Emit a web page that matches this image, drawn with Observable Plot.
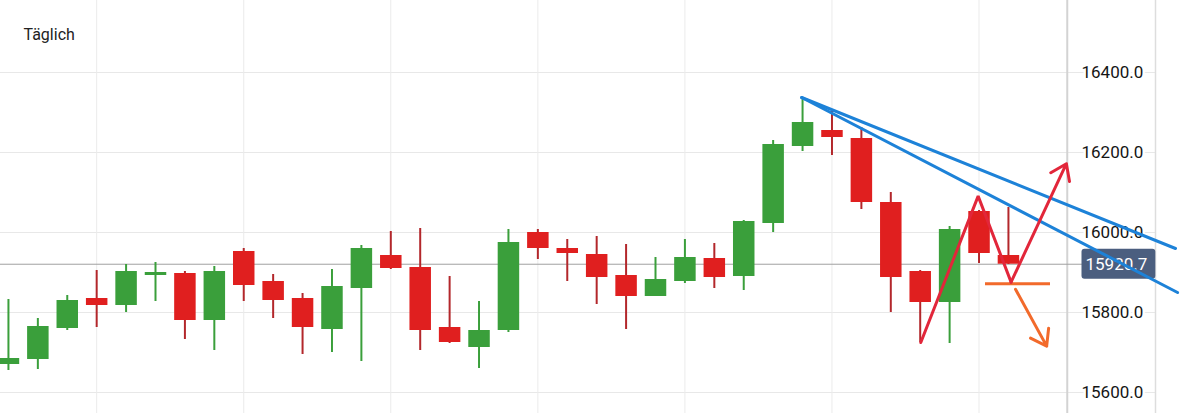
<!DOCTYPE html>
<html><head><meta charset="utf-8">
<script src="https://cdn.jsdelivr.net/npm/d3@7"></script>
<script src="https://cdn.jsdelivr.net/npm/@observablehq/plot@0.6"></script>
<style>body{margin:0;background:#fff;overflow:hidden}</style>
</head><body><div id="chart"></div>
<script>
// ---- data (daily candles, oldest first) ----
const opens  = [15670,15682.5,15760,15835,15817.5,15892.5,15897.5,15780,15952.5,15877.5,15835,15757.5,15860,15942.5,15912.5,15762.5,15712.5,15755,16000,15960,15945,15892.5,15840,15877.5,15935,15890,16022.5,16215,16255,16235,16075,15902.5,15825,16052.5,15942.5];
const highs  = [15832.5,15785,15842.5,15905,15920,15925,15902.5,15915,15960,15895,15847.5,15907.5,15967.5,16002.5,16010,15890,15827.5,16007.5,16007.5,15982.5,15990,15970,15937.5,15982.5,15972.5,16030,16230,16337.5,16307.5,16262.5,16100,15905,16015,16055,16062.5];
const lows   = [15655,15657.5,15755,15762.5,15800,15827.5,15732.5,15705,15827.5,15785,15695,15700,15677.5,15907.5,15705,15722.5,15660,15750,15932.5,15877.5,15820,15757.5,15840,15872.5,15860,15855,16000,16202.5,16192.5,16057.5,15800,15725,15722.5,15922.5,15920];
const closes = [15685,15765,15830,15817.5,15902.5,15900,15780,15902.5,15867.5,15830,15762.5,15865,15960,15910,15755,15725,15755,15975,15960,15947.5,15887.5,15840,15882.5,15937.5,15887.5,16027.5,16220,16275,16237.5,16075,15887.5,15825,16007.5,15947.5,15920.7];
const lastPrice = 15920.7;
const yTicks = [15600,15800,16000,16200,16400];
const gridCols = [3,8,13,18,23,28,33];
const titleText = "Täglich";

// ---- drawn annotations (candle index, price) ----
const trendLines = [
  {line:"a", i:26.97, v:16337.5}, {line:"a", i:39.68, v:15960},
  {line:"b", i:26.97, v:16337.5}, {line:"b", i:39.75, v:15850}
];
const redPath = [{i:31.02, v:15725},{i:32.97, v:16091},{i:34.09, v:15876}];
const redArrow = [{i1:34.09, v1:15876, i2:35.97, v2:16172}];
const orangeLevel = [{i1:33.22, i2:35.43, v:15872}];
const orangeArrow = [{i1:34.24, v1:15858, i2:35.3, v2:15716}];

// ---- layout ----
const xDomain = [-0.27, 39.0];
const plotEdge = 36.0;
const yDomain = [15547.5, 16580];

const candles = opens.map((o,i)=>({i, open:o, high:highs[i], low:lows[i], close:closes[i]}));
const up = d => d.close >= d.open;
const GREEN="#3a9f3b", RED="#e01f1f", REDWICK="#b3272b", BLUE="#1d82d8", ARED="#e2263a", ORANGE="#f26a2b";

const chart = Plot.plot({
  width:1185, height:413,
  marginTop:0, marginBottom:0, marginLeft:0, marginRight:30,
  x:{type:"linear", domain:xDomain, axis:null},
  y:{domain:yDomain, axis:null},
  style:{fontFamily:"Roboto, sans-serif", background:"#fff", overflow:"visible"},
  marks:[
    Plot.ruleY(yTicks,{stroke:"#e8e8e8", strokeWidth:1}),
    Plot.ruleX(gridCols,{stroke:"#ebebeb", strokeWidth:1}),
    Plot.ruleX([plotEdge],{stroke:"#d3d3d3", strokeWidth:2}),
    Plot.ruleX([xDomain[1]],{stroke:"#dddddd", strokeWidth:1.5}),
    Plot.ruleY([lastPrice],{stroke:"#a0a0a0", strokeWidth:1}),
    Plot.ruleX(candles,{x:"i", y1:"low", y2:"high", stroke:d=>up(d)?GREEN:REDWICK, strokeWidth:2}),
    Plot.ruleX(candles,{x:"i", y1:"open", y2:"close", stroke:d=>up(d)?GREEN:RED, strokeWidth:21.5}),
    Plot.text(yTicks,{y:d=>d, text:d=>d.toFixed(1), frameAnchor:"right", dx:-74, textAnchor:"start", fontSize:17, fill:"#151515", stroke:"white", strokeWidth:5}),
    Plot.text([lastPrice],{y:d=>d, text:d=>d.toFixed(1), frameAnchor:"right", dx:-70, textAnchor:"start", fontSize:17, fill:"white"}),
    Plot.line(trendLines,{x:"i", y:"v", z:"line", stroke:BLUE, strokeWidth:3, strokeLinecap:"round"}),
    Plot.ruleY(orangeLevel,{y:"v", x1:"i1", x2:"i2", stroke:ORANGE, strokeWidth:3}),
    Plot.arrow(orangeArrow,{x1:"i1", y1:"v1", x2:"i2", y2:"v2", stroke:ORANGE, strokeWidth:3, headLength:9, headAngle:70}),
    Plot.line(redPath,{x:"i", y:"v", stroke:ARED, strokeWidth:3, strokeLinejoin:"miter"}),
    Plot.arrow(redArrow,{x1:"i1", y1:"v1", x2:"i2", y2:"v2", stroke:ARED, strokeWidth:3, headLength:9, headAngle:70}),
    Plot.text([titleText],{frameAnchor:"top-left", dx:23, dy:28, lineAnchor:"top", fontSize:16, fill:"#222"})
  ]
});
document.getElementById("chart").append(chart);

// background box behind the last-price label
const label = Array.from(chart.querySelectorAll("text")).find(t => t.textContent === lastPrice.toFixed(1) && t.getAttribute("fill") !== "#151515" && (t.closest("g")?.getAttribute("fill") === "white" || t.getAttribute("fill") === "white"));
if (label) {
  const bb = label.getBBox();
  const tr = label.getAttribute("transform");
  const rect = document.createElementNS("http://www.w3.org/2000/svg","rect");
  rect.setAttribute("x", bb.x - 4);
  rect.setAttribute("y", bb.y + bb.height/2 - 15);
  rect.setAttribute("width", bb.width + 12);
  rect.setAttribute("height", 30);
  rect.setAttribute("rx", 3);
  rect.setAttribute("fill", "#4b5e7f");
  if (tr) rect.setAttribute("transform", tr);
  label.parentNode.insertBefore(rect, label);
}
</script>
</body></html>
